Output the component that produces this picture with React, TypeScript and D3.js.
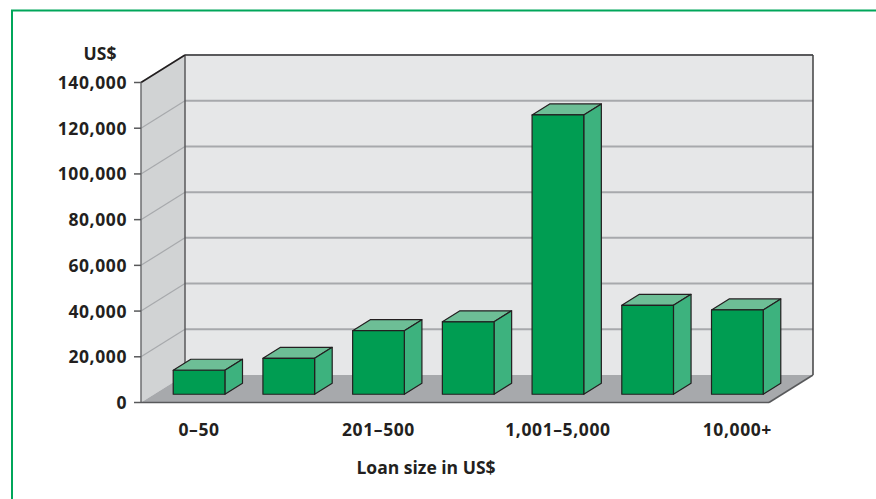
import React from "react";
import * as d3 from "d3";

const categories = ["0–50", "51–200", "201–500", "501–1,000", "1,001–5,000", "5,001–10,000", "10,000+"];
const shownLabels = ["0–50", "", "201–500", "", "1,001–5,000", "", "10,000+"];
const values = [10500, 15700, 27800, 31700, 122200, 38900, 36900];
const yTicks = [0, 20000, 40000, 60000, 80000, 100000, 120000, 140000];
const yTitle = "US$";
const xTitle = "Loan size in US$";

const W = 876;
const H = 499;
const left = 141;
const right = 769;
const top = 82.5;
const bottom = 402.5;
const DX = 44;
const DY = -27.5;
const FRONT = 0.3;
const BACK = 0.7;

const textColor = "#231f20";
const font = "'Open Sans', 'Noto Sans', sans-serif";

export default function App() {
  const x = d3.scaleBand<string>().domain(categories).range([left, right]).paddingInner(0).paddingOuter(0);
  const y = d3.scaleLinear().domain([0, 140000]).range([bottom, top]);
  const bw = x.bandwidth() * 0.576;
  const fmt = d3.format(",");

  const fx = FRONT * DX, fy = FRONT * DY;
  const bx = BACK * DX, by = BACK * DY;

  return (
    <div style={{ position: "absolute", left: 0, top: 0 }}>
      <svg width={W} height={H} style={{ display: "block" }}>
        <rect x={0} y={0} width={W} height={H} fill="#ffffff" />
        <rect x={12} y={10.5} width={W} height={H} fill="none" stroke="#00a65a" strokeWidth={2} />

        {/* left wall */}
        <polygon
          points={`${left},${top} ${left + DX},${top + DY} ${left + DX},${bottom + DY} ${left},${bottom}`}
          fill="#d1d3d4"
        />
        {/* back wall */}
        <rect x={left + DX} y={top + DY} width={right - left} height={bottom - top} fill="#e6e7e8" />
        {/* gridlines */}
        {yTicks.filter((t) => t > 0).map((t) => (
          <g key={"g" + t}>
            <line x1={left} y1={y(t)} x2={left + DX} y2={y(t) + DY} stroke="#a7a9ac" strokeWidth={1.2} />
            <line x1={left + DX} y1={y(t) + DY} x2={right + DX} y2={y(t) + DY} stroke="#a7a9ac" strokeWidth={2} />
          </g>
        ))}
        {/* floor */}
        <polygon
          points={`${left},${bottom} ${right},${bottom} ${right + DX},${bottom + DY} ${left + DX},${bottom + DY}`}
          fill="#a7a9ac"
        />
        {/* wall edges */}
        <line x1={left + DX} y1={top + DY} x2={left + DX} y2={bottom + DY} stroke="#58595b" strokeWidth={1.5} />
        <line x1={right + DX} y1={top + DY} x2={right + DX} y2={bottom + DY} stroke="#414042" strokeWidth={1.5} />
        <line x1={left + DX} y1={top + DY} x2={right + DX} y2={top + DY} stroke="#414042" strokeWidth={1.5} />
        <line x1={left} y1={top} x2={left + DX} y2={top + DY} stroke="#231f20" strokeWidth={1.5} />
        <line x1={left} y1={top} x2={left} y2={bottom} stroke="#6d6e71" strokeWidth={1.5} />
        <line x1={left} y1={bottom} x2={right} y2={bottom} stroke="#58595b" strokeWidth={1.5} />
        <line x1={right} y1={bottom} x2={right + DX} y2={bottom + DY} stroke="#58595b" strokeWidth={1.5} />

        {/* bars */}
        {categories.map((c, i) => {
          const cx = (x(c) as number) + x.bandwidth() / 2;
          const x0 = cx - bw / 2 + fx;
          const x1 = cx + bw / 2 + fx;
          const yb = y(0) + fy;
          const yt = y(values[i]) + fy;
          const ox = bx - fx, oy = by - fy;
          return (
            <g key={c} stroke={textColor} strokeWidth={1.2} strokeLinejoin="round">
              <polygon points={`${x0},${yt} ${x0 + ox},${yt + oy} ${x1 + ox},${yt + oy} ${x1},${yt}`} fill="#6dbe96" />
              <polygon points={`${x1},${yt} ${x1 + ox},${yt + oy} ${x1 + ox},${yb + oy} ${x1},${yb}`} fill="#3db27e" />
              <rect x={x0} y={yt} width={x1 - x0} height={yb - yt} fill="#009d52" />
            </g>
          );
        })}

        {/* y axis ticks */}
        {yTicks.map((t) => (
          <g key={"t" + t}>
            <line x1={left - 7} y1={y(t)} x2={left} y2={y(t)} stroke="#58595b" strokeWidth={1.5} />
            <text
              x={127}
              y={y(t) + 6.5}
              textAnchor="end"
              fontFamily={font}
              fontWeight={700}
              fontSize={17.5}
              letterSpacing={0.6}
              fill={textColor}
            >
              {fmt(t)}
            </text>
          </g>
        ))}
        <text x={100} y={59.5} textAnchor="middle" fontFamily={font} fontWeight={700} fontSize={17.5} fill={textColor}>
          {yTitle}
        </text>

        {/* x labels */}
        {categories.map((c, i) => (
          <text
            key={"x" + c}
            x={(x(c) as number) + x.bandwidth() / 2 + fx}
            y={436}
            textAnchor="middle"
            fontFamily={font}
            fontWeight={700}
            fontSize={17.5}
            letterSpacing={0.6}
            fill={textColor}
          >
            {shownLabels[i]}
          </text>
        ))}
        <text x={426} y={473.5} textAnchor="middle" fontFamily={font} fontWeight={700} fontSize={17.5} fill={textColor}>
          {xTitle}
        </text>
      </svg>
    </div>
  );
}
